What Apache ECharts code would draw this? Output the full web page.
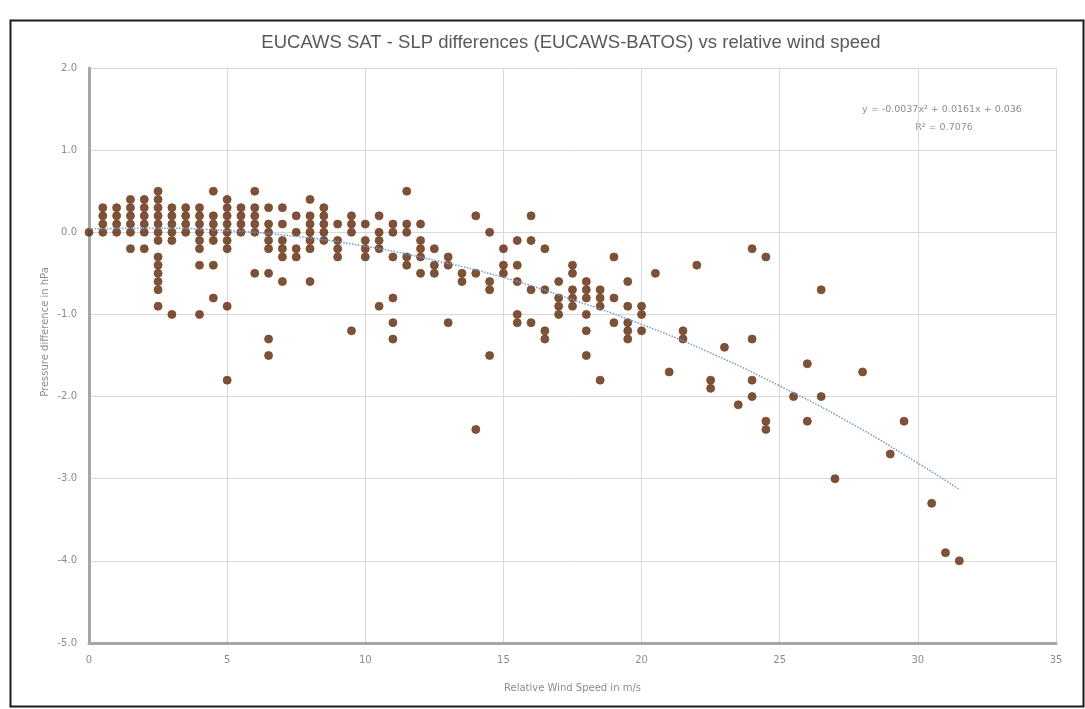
<!DOCTYPE html>
<html>
<head>
<meta charset="utf-8">
<script src="https://cdn.jsdelivr.net/npm/echarts@6/dist/echarts.min.js"></script>
<style>
  html, body { margin: 0; padding: 0; background: #fff; }
  #chart1 { width: 1085px; height: 709px; }
</style>
</head>
<body>
<div id="chart1"></div>
<script>
// wind speed columns (m/s) and the pressure differences read at each one (hPa)
var speeds = [0, 0.5, 1, 1.5, 2, 2.5, 3, 3.5, 4, 4.5, 5, 5.5, 6, 6.5, 7, 7.5, 8, 8.5, 9, 9.5,
  10, 10.5, 11, 11.5, 12, 12.5, 13, 13.5, 14, 14.5, 15, 15.5, 16, 16.5, 17, 17.5, 18, 18.5, 19, 19.5,
  20, 20.5, 21, 21.5, 22, 22.5, 23, 23.5, 24, 24.5, 25.5, 26, 26.5, 27, 28, 29, 29.5, 30.5, 31, 31.5];

var diffs = [
  [0],
  [0.3, 0.2, 0.1, 0],
  [0.3, 0.2, 0.1, 0],
  [0.4, 0.3, 0.2, 0.1, 0, -0.2],
  [0.4, 0.3, 0.2, 0.1, 0, -0.2],
  [0.5, 0.4, 0.3, 0.2, 0.1, 0, -0.1, -0.3, -0.4, -0.5, -0.6, -0.7, -0.9],
  [0.3, 0.2, 0.1, 0, -0.1, -1.0],
  [0.3, 0.2, 0.1, 0],
  [0.3, 0.2, 0.1, 0, -0.1, -0.2, -0.4, -1.0],
  [0.5, 0.2, 0.1, 0, -0.1, -0.4, -0.8],
  [0.4, 0.3, 0.2, 0.1, 0, -0.1, -0.2, -0.9, -1.8],
  [0.3, 0.2, 0.1, 0],
  [0.5, 0.3, 0.2, 0.1, 0, -0.5],
  [0.3, 0.1, 0, -0.1, -0.2, -0.5, -1.3, -1.5],
  [0.3, 0.1, -0.1, -0.2, -0.3, -0.6],
  [0.2, 0, -0.2, -0.3],
  [0.4, 0.2, 0.1, 0, -0.1, -0.2, -0.6],
  [0.3, 0.2, 0.1, 0, -0.1],
  [0.1, -0.1, -0.2, -0.3],
  [0.2, 0.1, 0, -1.2],
  [0.1, -0.1, -0.2, -0.3],
  [0.2, 0, -0.1, -0.2, -0.9],
  [0.1, 0, -0.3, -0.8, -1.1, -1.3],
  [0.5, 0.1, 0, -0.3, -0.4],
  [0.1, -0.1, -0.2, -0.3, -0.5],
  [-0.2, -0.4, -0.5],
  [-0.3, -0.4, -1.1],
  [-0.5, -0.6],
  [0.2, -0.5, -2.4],
  [0, -0.6, -0.7, -1.5],
  [-0.2, -0.4, -0.5],
  [-0.1, -0.4, -0.6, -1.0, -1.1],
  [0.2, -0.1, -0.7, -1.1],
  [-0.2, -0.7, -1.2, -1.3],
  [-0.6, -0.8, -0.9, -1.0],
  [-0.4, -0.5, -0.7, -0.8, -0.9],
  [-0.6, -0.7, -0.8, -1.0, -1.2, -1.5],
  [-0.7, -0.8, -0.9, -1.8],
  [-0.3, -0.8, -1.1],
  [-0.6, -0.9, -1.1, -1.2, -1.3],
  [-0.9, -1.0, -1.2],
  [-0.5],
  [-1.7],
  [-1.2, -1.3],
  [-0.4],
  [-1.8, -1.9],
  [-1.4],
  [-2.1],
  [-0.2, -1.3, -1.8, -2.0],
  [-0.3, -2.3, -2.4],
  [-2.0],
  [-1.6, -2.3],
  [-0.7, -2.0],
  [-3.0],
  [-1.7],
  [-2.7],
  [-2.3],
  [-3.3],
  [-3.9],
  [-4.0]
];

// polynomial trendline
var trendX = [0, 2.5, 5, 7.5, 10, 12.5, 15, 17.5, 20, 22.5, 25, 27.5, 30, 31.5];
var trendY = [0.04, 0.05, 0.02, -0.05, -0.17, -0.34, -0.55, -0.82, -1.12, -1.47, -1.87, -2.31, -2.81, -3.13];

var titleText = 'EUCAWS SAT - SLP differences (EUCAWS-BATOS) vs relative wind speed';
var equationText = 'y = -0.0037x\u00b2 + 0.0161x + 0.036';
var r2Text = 'R\u00b2 = 0.7076';

var points = [];
speeds.forEach(function (s, i) {
  diffs[i].forEach(function (v) { points.push([s, v]); });
});
var trend = trendX.map(function (x, i) { return [x, trendY[i]]; });

var dom = document.getElementById('chart1');
var myChart = echarts.init(dom);

var labelColor = '#8c8c8c';
var option = {
  animation: false,
  backgroundColor: '#fff',
  title: {
    text: titleText,
    left: 566,
    top: 28,
    textAlign: 'center',
    textStyle: { fontFamily: 'Liberation Sans', fontSize: 18.5, fontWeight: 'normal', color: '#595959' }
  },
  grid: { left: 89, right: 29, top: 68, bottom: 66 },
  xAxis: {
    type: 'value',
    min: 0, max: 35, interval: 5,
    name: 'Relative Wind Speed in m/s',
    nameLocation: 'middle',
    nameGap: 40,
    nameTextStyle: { color: labelColor, fontSize: 10, fontFamily: 'DejaVu Sans' },
    axisLine: { onZero: false, lineStyle: { color: '#a6a6a6', width: 3 } },
    axisTick: { show: false },
    axisLabel: { color: labelColor, fontSize: 10, margin: 12, fontFamily: 'DejaVu Sans' },
    splitLine: { show: true, lineStyle: { color: '#d9d9d9', width: 1 } }
  },
  yAxis: {
    type: 'value',
    min: -5, max: 2, interval: 1,
    axisLine: { show: true, onZero: false, lineStyle: { color: '#a6a6a6', width: 3 } },
    axisTick: { show: false },
    axisLabel: {
      color: labelColor, fontSize: 10, margin: 12, fontFamily: 'DejaVu Sans',
      formatter: function (v) { return v.toFixed(1); }
    },
    splitLine: { show: true, lineStyle: { color: '#d9d9d9', width: 1 } }
  },
  graphic: [
    { type: 'rect', left: 8, top: 18, shape: { width: 1073, height: 686 },
      style: { fill: 'none', stroke: '#1a1a1a', lineWidth: 2 }, silent: true },
    { type: 'text', x: 45, y: 332, rotation: Math.PI / 2,
      style: { text: 'Pressure difference in hPa', fill: labelColor, fontSize: 10,
               fontFamily: 'DejaVu Sans', align: 'center', verticalAlign: 'middle' } },
    { type: 'text', x: 942, y: 110,
      style: { text: equationText, fill: '#8c8c8c', fontSize: 9.5, fontFamily: 'DejaVu Sans',
               align: 'center', verticalAlign: 'middle' } },
    { type: 'text', x: 944, y: 128,
      style: { text: r2Text, fill: '#8c8c8c', fontSize: 9.5, fontFamily: 'DejaVu Sans',
               align: 'center', verticalAlign: 'middle' } }
  ],
  series: [
    {
      type: 'scatter',
      data: points,
      symbolSize: 8,
      itemStyle: { color: '#552810', borderColor: '#8a4215', borderWidth: 1 },
      z: 2
    },
    {
      type: 'line',
      data: trend,
      smooth: true,
      showSymbol: false,
      lineStyle: { color: '#6f9bd3', width: 1.5, type: 'dotted' },
      z: 3
    }
  ]
};

myChart.setOption(option, true);
</script>
</body>
</html>
